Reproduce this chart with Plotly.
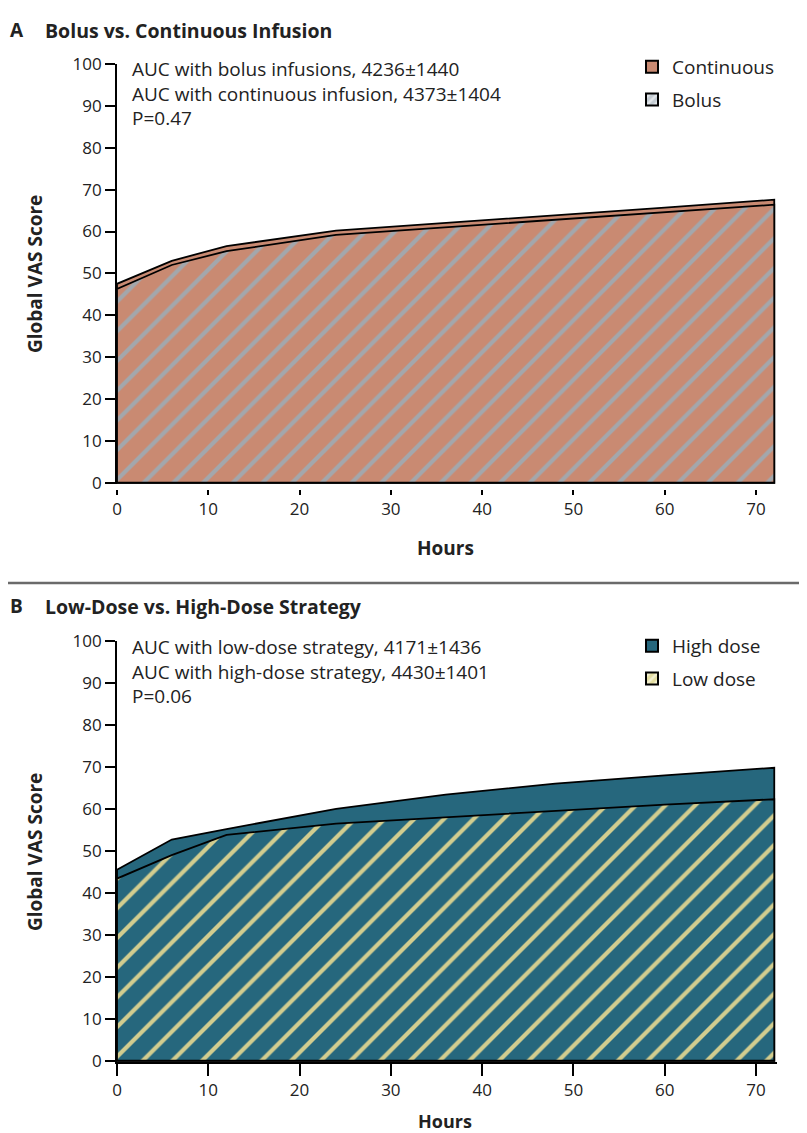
import plotly.graph_objects as go

# ---------------- data ----------------
hours = [0, 6, 12, 24, 36, 48, 60, 72]
continuous = [47.5, 53.0, 56.5, 60.2, 62.0, 63.8, 65.7, 67.6]
bolus = [46.3, 52.0, 55.3, 59.2, 61.0, 62.8, 64.6, 66.4]
high_dose = [45.5, 52.7, 55.2, 60.0, 63.4, 66.0, 68.0, 69.8]
low_dose = [43.4, 49.0, 53.8, 56.5, 58.0, 59.5, 61.0, 62.3]

x_ticks = [0, 10, 20, 30, 40, 50, 60, 70]
y_ticks = [0, 10, 20, 30, 40, 50, 60, 70, 80, 90, 100]

title_a = "Bolus vs. Continuous Infusion"
title_b = "Low-Dose vs. High-Dose Strategy"
text_a = ["AUC with bolus infusions, 4236±1440",
          "AUC with continuous infusion, 4373±1404",
          "P=0.47"]
text_b = ["AUC with low-dose strategy, 4171±1436",
          "AUC with high-dose strategy, 4430±1401",
          "P=0.06"]

# ---------------- geometry (page has an 8px body margin) ----------------
OFF = 8
W, H = 807 - OFF, 1133 - OFF
ML = 117 - OFF
MR = W - (777 - OFF)
MT = 64 - OFF
MB = H - (1062 - OFF)
PW = W - ML - MR
PH = H - MT - MB

def px(xpage):
    return (xpage - OFF - ML) / PW

def py(ypage):
    return (H - MB - (ypage - OFF)) / PH

BROWN = "#C98A72"
GRAY_HATCH = "#A3A7AC"
TEAL = "#26677D"
YEL_HATCH = "#D2CD8F"
TXT = "#222222"
FONT = "Open Sans"

def poly(xs, ys):
    return [xs[0]] + list(xs) + [xs[-1], xs[0]], [0] + list(ys) + [0, 0]

fig = go.Figure()

# Panel A
xa, ya = poly(hours, continuous)
fig.add_trace(go.Scatter(x=xa, y=ya, fill="toself", fillcolor=BROWN, mode="lines",
                         line=dict(color="black", width=1.8), showlegend=False,
                         xaxis="x", yaxis="y", hoverinfo="skip"))
xb, yb = poly(hours, bolus)
fig.add_trace(go.Scatter(x=xb, y=yb, fill="toself", fillcolor=BROWN, mode="lines",
                         fillpattern=dict(shape="/", fgcolor=GRAY_HATCH, bgcolor=BROWN,
                                          size=21, solidity=0.2, fillmode="replace"),
                         line=dict(color="black", width=1.8), showlegend=False,
                         xaxis="x", yaxis="y", hoverinfo="skip"))
# Panel B
xh, yh = poly(hours, high_dose)
fig.add_trace(go.Scatter(x=xh, y=yh, fill="toself", fillcolor=TEAL, mode="lines",
                         line=dict(color="black", width=1.8), showlegend=False,
                         xaxis="x2", yaxis="y2", hoverinfo="skip"))
xl, yl = poly(hours, low_dose)
fig.add_trace(go.Scatter(x=xl, y=yl, fill="toself", fillcolor=TEAL, mode="lines",
                         fillpattern=dict(shape="/", fgcolor=YEL_HATCH, bgcolor=TEAL,
                                          size=21, solidity=0.2, fillmode="replace"),
                         line=dict(color="black", width=1.8), showlegend=False,
                         xaxis="x2", yaxis="y2", hoverinfo="skip"))

# Legend entries (square swatches)
fig.add_trace(go.Bar(x=[None], y=[None], name="Continuous", legend="legend", legendgroup="c",
                     marker=dict(color=BROWN, line=dict(color="black", width=2)),
                     xaxis="x", yaxis="y", hoverinfo="skip"))
fig.add_trace(go.Bar(x=[None], y=[None], name="Bolus", legend="legend", legendgroup="b",
                     marker=dict(color="#C4CCD3", line=dict(color="black", width=2),
                                 pattern=dict(shape="/", fgcolor="white", bgcolor="#C4CCD3",
                                              size=7, solidity=0.45)),
                     xaxis="x", yaxis="y", hoverinfo="skip"))
fig.add_trace(go.Bar(x=[None], y=[None], name="High dose", legend="legend2", legendgroup="h",
                     marker=dict(color=TEAL, line=dict(color="black", width=2)),
                     xaxis="x2", yaxis="y2", hoverinfo="skip"))
fig.add_trace(go.Bar(x=[None], y=[None], name="Low dose", legend="legend2", legendgroup="l",
                     marker=dict(color="#E3DDA0", line=dict(color="black", width=2),
                                 pattern=dict(shape="/", fgcolor="white", bgcolor="#E3DDA0",
                                              size=7, solidity=0.45)),
                     xaxis="x2", yaxis="y2", hoverinfo="skip"))

axis_common_y = dict(range=[-0.3, 100], tickvals=y_ticks, ticks="outside", ticklen=10,
                     tickwidth=1.8, tickcolor="black", showline=True, linecolor="black",
                     linewidth=1.8, showgrid=False, zeroline=False,
                     tickfont=dict(family=FONT, size=17, color=TXT))
axis_common_x = dict(range=[0, 72.3], tickvals=x_ticks, ticks="outside",
                     tickwidth=1.8, tickcolor="black", showgrid=False,
                     zeroline=False, tickfont=dict(family=FONT, size=17, color=TXT))

legend_common = dict(font=dict(family=FONT, size=19, color=TXT), bgcolor="rgba(0,0,0,0)",
                     tracegroupgap=5, xanchor="left", yanchor="top", itemclick=False,
                     itemdoubleclick=False)

fig.update_layout(
    width=W, height=H,
    margin=dict(l=ML, r=MR, t=MT, b=MB),
    paper_bgcolor="white", plot_bgcolor="rgba(0,0,0,0)",
    xaxis=dict(domain=[0, 1], anchor="free", position=py(489), ticklen=5,
               showline=False, **axis_common_x),
    yaxis=dict(domain=[py(484), py(64)], anchor="x", **axis_common_y),
    xaxis2=dict(domain=[0, 1], anchor="y2", ticklen=12, showline=True,
                linecolor="black", linewidth=1.8, **axis_common_x),
    yaxis2=dict(domain=[py(1062), py(641)], anchor="x2", **axis_common_y),
    legend=dict(x=px(632), y=py(48), **legend_common),
    legend2=dict(x=px(632), y=py(627), **legend_common),
    showlegend=True,
    bargap=0,
)

ann = []
def add_text(text, xpage, ypage, size=16, bold=False, xanchor="left", angle=0,
             yanchor="middle"):
    t = f"<b>{text}</b>" if bold else text
    ann.append(dict(text=t, x=px(xpage), y=py(ypage), xref="paper", yref="paper",
                    xanchor=xanchor, yanchor=yanchor, align="left", showarrow=False,
                    textangle=angle, font=dict(family=FONT, size=size, color=TXT)))

add_text("A", 8, 30, size=19, bold=True)
add_text(title_a, 43, 30, size=19.5, bold=True)
add_text("B", 8, 606, size=19, bold=True)
add_text(title_b, 43, 606, size=19.5, bold=True)
add_text("<br>".join(text_a), 130, 54, size=19, yanchor="top")
add_text("<br>".join(text_b), 130, 632, size=19, yanchor="top")
add_text("Global VAS Score", 35, 274, size=19, bold=True, xanchor="center", angle=-90)
add_text("Global VAS Score", 35, 852, size=19, bold=True, xanchor="center", angle=-90)
add_text("Hours", 445, 548, size=19, bold=True, xanchor="center")
add_text("Hours", 445, 1121, size=18, bold=True, xanchor="center")

fig.update_layout(annotations=ann)
fig.add_shape(type="line", xref="paper", yref="paper", x0=px(0), x1=px(807),
              y0=py(583), y1=py(583), line=dict(color="#6a6a6a", width=2.5))

fig.write_html("out.html")
